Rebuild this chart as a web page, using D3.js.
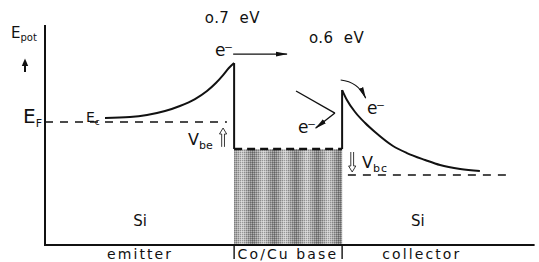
<!DOCTYPE html>
<html>
<head>
<meta charset="utf-8">
<script src="https://cdn.jsdelivr.net/npm/d3@7"></script>
<style>
  body { margin: 0; background: #fff; }
  svg { display: block; }
  text { font-family: "DejaVu Sans", sans-serif; fill: #111; white-space: pre; }
</style>
</head>
<body>
<svg id="chart" width="539" height="262"></svg>
<script>
/**
 * Energy band diagram of a Si / Co-Cu / Si spin-valve transistor.
 * Position is in arbitrary units (0-100), energy in eV with emitter E_F = 0.
 */

// Globals.
var X_DOMAIN = [0, 100];
var E_DOMAIN = [-1.435, 1.132];
var LINE_WIDTH = 2;
var STRIPE = 21.6;

// Conduction band edge in the emitter.
var emitterX = [12.5, 17.7, 21.25, 25.0, 28.1, 31.25, 33.75, 35.6, 37.1, 38.3, 39.4];
var emitterE = [0.047, 0.058, 0.082, 0.128, 0.187, 0.268, 0.362, 0.455, 0.548, 0.630, 0.688];

// Conduction band edge in the collector.
var collectorX = [61.9, 62.9, 64.6, 66.7, 68.75, 72.5, 75.4, 79.2, 82.3, 86.5, 90.6];
var collectorE = [0.373, 0.257, 0.117, -0.012, -0.117, -0.280, -0.362, -0.443, -0.502, -0.548, -0.572];

// Fermi levels (dashed): emitter, base, collector.
var fermiStart = [0, 39.4, 63.1];
var fermiEnd = [37.9, 61.9, 96.9];
var fermiE = [0, -0.315, -0.618];

// Base layer.
var baseLeft = 39.4;
var baseRight = 61.9;

// Labels.
var regionNames = ['emitter', 'Co/Cu base', 'collector'];
var regionCenters = [19.8, 50.6, 78.5];
var materialNames = ['Si', 'Si'];
var materialCenters = [19.8, 77.7];
var barrierLabels = ['o.7  eV', 'o.6  eV'];
var barrierLabelX = [33.3, 55.0];
var barrierLabelE = [1.15, 0.92];


var svg = d3.select('#chart');
var x = d3.scaleLinear().domain(X_DOMAIN).range([45, 525]);
var y = d3.scaleLinear().domain(E_DOMAIN).range([245, 25]);

var line = d3.line()
  .x(function(d) { return x(d[0]); })
  .y(function(d) { return y(d[1]); });

var curve = d3.line()
  .x(function(d) { return x(d[0]); })
  .y(function(d) { return y(d[1]); })
  .curve(d3.curveMonotoneX);

/**
 * Fill patterns for the striped, dithered base layer.
 */
var defs = svg.append('defs');
var grad = defs.append('linearGradient')
  .attr('id', 'stripe')
  .attr('x1', 0).attr('x2', 1).attr('y1', 0).attr('y2', 0);
grad.append('stop').attr('offset', 0).attr('stop-color', '#7e7e7e');
grad.append('stop').attr('offset', 0.5).attr('stop-color', '#d0d0d0');
grad.append('stop').attr('offset', 1).attr('stop-color', '#7e7e7e');

defs.append('pattern')
  .attr('id', 'stripes')
  .attr('patternUnits', 'userSpaceOnUse')
  .attr('x', x(baseLeft) - 3).attr('y', 0)
  .attr('width', STRIPE).attr('height', 4)
  .append('rect')
  .attr('width', STRIPE).attr('height', 4)
  .attr('fill', 'url(#stripe)');

var dither = defs.append('pattern')
  .attr('id', 'dither')
  .attr('patternUnits', 'userSpaceOnUse')
  .attr('width', 2).attr('height', 2);
dither.append('rect').attr('x', 0).attr('y', 0).attr('width', 1).attr('height', 1)
  .attr('fill', '#000').attr('fill-opacity', 0.25);
dither.append('rect').attr('x', 1).attr('y', 1).attr('width', 1).attr('height', 1)
  .attr('fill', '#fff').attr('fill-opacity', 0.35);

var marker = defs.append('marker')
  .attr('id', 'head')
  .attr('markerUnits', 'userSpaceOnUse')
  .attr('markerWidth', 12).attr('markerHeight', 6)
  .attr('refX', 11).attr('refY', 3)
  .attr('orient', 'auto');
marker.append('path').attr('d', 'M0,0.6L12,3L0,5.4Z').attr('fill', '#111');

/**
 * Base layer block.
 */
['url(#stripes)', 'url(#dither)'].forEach(function(fill) {
  svg.append('rect')
    .attr('x', x(baseLeft))
    .attr('y', y(fermiE[1]))
    .attr('width', x(baseRight) - x(baseLeft))
    .attr('height', y(E_DOMAIN[0]) - y(fermiE[1]))
    .attr('fill', fill);
});

/**
 * Axes (no ticks): energy up the left, position along the bottom.
 */
svg.append('path')
  .attr('d', line([[0, E_DOMAIN[1]], [0, E_DOMAIN[0]], [102, E_DOMAIN[0]]]))
  .attr('fill', 'none')
  .attr('stroke', '#111')
  .attr('stroke-width', LINE_WIDTH);

// Fermi levels.
fermiE.forEach(function(e, i) {
  svg.append('path')
    .attr('d', line([[fermiStart[i], e], [fermiEnd[i], e]]))
    .attr('fill', 'none')
    .attr('stroke', '#111')
    .attr('stroke-width', i === 1 ? 2.4 : 1.6)
    .attr('stroke-dasharray', i === 1 ? '8,5' : '8,7');
});

// Band edges.
var emitterPts = emitterX.map(function(v, i) { return [v, emitterE[i]]; });
var collectorPts = collectorX.map(function(v, i) { return [v, collectorE[i]]; });
[emitterPts, collectorPts].forEach(function(pts) {
  svg.append('path')
    .attr('d', curve(pts))
    .attr('fill', 'none')
    .attr('stroke', '#111')
    .attr('stroke-width', LINE_WIDTH);
});

// Interface walls down to the base Fermi level.
[[baseLeft, emitterE[emitterE.length - 1]], [baseRight, collectorE[0]]].forEach(function(p) {
  svg.append('path')
    .attr('d', line([p, [p[0], fermiE[1]]]))
    .attr('stroke', '#111')
    .attr('stroke-width', LINE_WIDTH);
});

// Bracket ticks for the base label.
[baseLeft, baseRight].forEach(function(v) {
  svg.append('line')
    .attr('x1', x(v)).attr('x2', x(v))
    .attr('y1', y(E_DOMAIN[0])).attr('y2', 259)
    .attr('stroke', '#111')
    .attr('stroke-width', 1.4);
});

/**
 * Electron arrows.
 */
// hot electron injected over the emitter barrier
svg.append('path')
  .attr('d', line([[39.2, 0.793], [50.4, 0.793]]))
  .attr('stroke', '#111')
  .attr('stroke-width', 1.3)
  .attr('marker-end', 'url(#head)');

// reflected electron at the collector barrier
svg.append('path')
  .attr('d', line([[52.3, 0.362], [60.4, 0.105]]))
  .attr('fill', 'none')
  .attr('stroke', '#111')
  .attr('stroke-width', 1.4);
svg.append('path')
  .attr('d', line([[60.4, 0.105], [56.4, -0.07]]))
  .attr('fill', 'none')
  .attr('stroke', '#111')
  .attr('stroke-width', 1.4)
  .attr('marker-end', 'url(#head)');

// transmitted electron over the collector barrier
svg.append('path')
  .attr('d', 'M' + x(61.6) + ',' + y(0.49) + 'Q' + x(65.2) + ',' + y(0.47) + ' ' + x(66.8) + ',' + y(0.28))
  .attr('fill', 'none')
  .attr('stroke', '#111')
  .attr('stroke-width', 1.2)
  .attr('marker-end', 'url(#head)');

/**
 * hollowArrow
 * ===========
 * Draws an open double-shafted arrow (like ⇑ / ⇓).
 */
var hollowArrow = function(cx, yTail, yHead) {
  var dir = yHead < yTail ? -1 : 1;
  var headLen = 6, hw = 3.6, gap = 1.4;
  var yb = yHead - dir * headLen;
  var d = 'M' + (cx - gap) + ',' + yTail + 'L' + (cx - gap) + ',' + yb +
    'L' + (cx - hw) + ',' + yb + 'L' + cx + ',' + yHead + 'L' + (cx + hw) + ',' + yb +
    'L' + (cx + gap) + ',' + yb + 'L' + (cx + gap) + ',' + yTail;
  svg.append('path')
    .attr('d', d)
    .attr('fill', 'none')
    .attr('stroke', '#222')
    .attr('stroke-width', 0.9);
};
hollowArrow(x(37.1), y(-0.29), y(-0.07));
hollowArrow(x(64.0), y(-0.35), y(-0.583));

/**
 * Text helpers.
 */
var label = function(px, py, main, sub, size, subSize) {
  var t = svg.append('text')
    .attr('x', px).attr('y', py)
    .attr('font-size', size)
    .text(main);
  if (sub) {
    t.append('tspan')
      .attr('dy', size * 0.22)
      .attr('font-size', subSize)
      .text(sub);
  }
  return t;
};

var electron = function(px, py) {
  svg.append('text')
    .attr('x', px).attr('y', py)
    .attr('font-size', 17)
    .attr('letter-spacing', -1.5)
    .text('e\u207B');
};

label(11, 38, 'E', 'pot', 15, 10);
label(23, 123, 'E', 'F', 20, 11);
label(86, 122, 'E', 'c', 14, 9);
label(188, 145, 'V', 'be', 16, 11);
label(362, 168, 'V', 'bc', 16, 11).select('tspan').attr('letter-spacing', 1);

// E_pot up arrow
svg.append('path')
  .attr('d', 'M25,72L25,64')
  .attr('stroke', '#111')
  .attr('stroke-width', 2);
svg.append('path')
  .attr('d', 'M21.8,66L25,58.5L28.2,66Z')
  .attr('fill', '#111');

electron(215, 56);
electron(367, 114);
electron(298, 133);

barrierLabels.forEach(function(s, i) {
  svg.append('text')
    .attr('x', x(barrierLabelX[i]))
    .attr('y', y(barrierLabelE[i]))
    .attr('font-size', 15)
    .attr('letter-spacing', 0.4)
    .text(s);
});

materialNames.forEach(function(s, i) {
  svg.append('text')
    .attr('x', x(materialCenters[i]))
    .attr('y', 226)
    .attr('text-anchor', 'middle')
    .attr('font-size', 15)
    .text(s);
});

regionNames.forEach(function(s, i) {
  svg.append('text')
    .attr('x', x(regionCenters[i]))
    .attr('y', 259)
    .attr('text-anchor', 'middle')
    .attr('font-size', 14)
    .attr('letter-spacing', 2.1)
    .text(s);
});
</script>
</body>
</html>
